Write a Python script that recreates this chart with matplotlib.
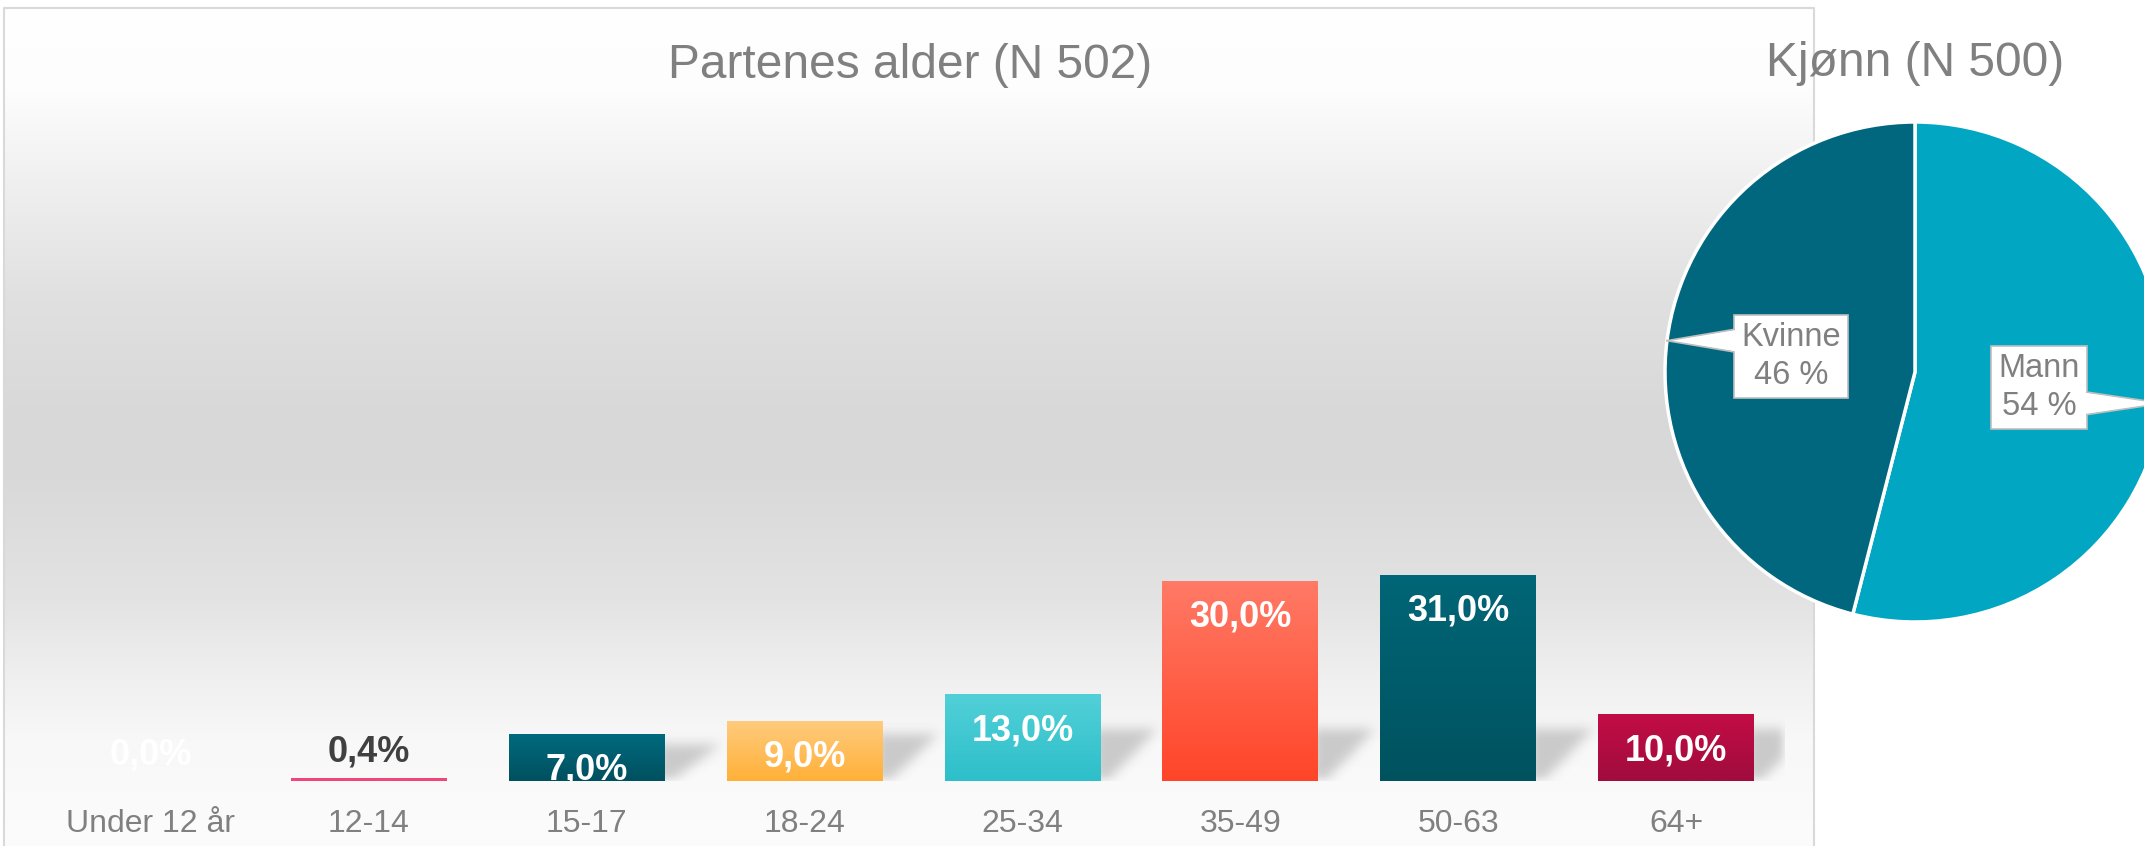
import numpy as np
import matplotlib
matplotlib.use("Agg")
import matplotlib.pyplot as plt
from matplotlib.colors import LinearSegmentedColormap, to_rgb
from matplotlib.patches import Polygon
from matplotlib.transforms import offset_copy
from matplotlib.lines import Line2D

plt.rcParams['font.family'] = ['Liberation Sans', 'DejaVu Sans']

# ---------------- data ----------------
age_groups = ["Under 12 år", "12-14", "15-17", "18-24", "25-34", "35-49", "50-63", "64+"]
age_pct = [0.0, 0.4, 7.0, 9.0, 13.0, 30.0, 31.0, 10.0]
age_labels = ["0,0%", "0,4%", "7,0%", "9,0%", "13,0%", "30,0%", "31,0%", "10,0%"]
title_age = "Partenes alder (N 502)"

gender = ["Mann", "Kvinne"]
gender_pct = [54, 46]
title_gender = "Kjønn (N 500)"

# ---------------- styles ----------------
bar_top_colors = ["#FFFFFF", "#F0467C", "#006A7E", "#FFCB7E", "#52D0D8", "#FF7A66", "#006677", "#C30C46"]
bar_bot_colors = ["#FFFFFF", "#F0467C", "#00505F", "#FFB038", "#2DBFCA", "#FF4529", "#00525F", "#A00C3E"]
label_colors = ["white", "#404040", "white", "white", "white", "white", "white", "white"]
pie_colors = ["#00A6C2", "#00677F"]
GRAY = "#808080"

W, H = 2144, 846
DPI = 100
fig = plt.figure(figsize=(W / DPI, H / DPI), dpi=DPI)
fig.patch.set_facecolor("white")


def fx(px):
    return px / W


def fy(py):
    return 1 - py / H


# ---------------- panel background ----------------
pl, pr, pt = 4, 1814, 8
bg = fig.add_axes([fx(pl), 0, fx(pr - pl), fy(pt)])
bg.set_axis_off()
rows = np.arange(pt, H)
stops_y = [pt, 90, 180, 300, 420, 480, 600, 680, 740, 846]
stops_c = [to_rgb(c) for c in ["#FFFFFF", "#FDFDFD", "#F0F0F0", "#E0E0E0", "#D8D8D8",
                               "#D9D9D9", "#E3E3E3", "#F0F0F0", "#F8F8F8", "#FCFCFC"]]
img = np.zeros((len(rows), 1, 3))
for k in range(3):
    img[:, 0, k] = np.interp(rows, stops_y, [c[k] for c in stops_c])
bg.imshow(img, extent=(0, 1, 0, 1), aspect="auto", origin="upper", interpolation="bilinear")
bg.set_xlim(0, 1)
bg.set_ylim(0, 1)
border_c = "#D9D9D9"
bg.plot([0, 0, 1, 1], [0, 1, 1, 0], color=border_c, lw=1.5, clip_on=False)

# ---------------- bar chart ----------------
ax_l, ax_w, ax_b, ax_h = 42, 1743, 781, 666
ax = fig.add_axes([fx(ax_l), fy(ax_b), fx(ax_w), ax_h / H])
ax.set_facecolor("none")
n = len(age_groups)
x = np.arange(n)
width = 0.715
ymax = 100
bars = ax.bar(x, age_pct, width=width, color="none", edgecolor="none", zorder=3)

for b, ct, cb in zip(bars, bar_top_colors, bar_bot_colors):
    x0, y0, w, h = b.get_x(), b.get_y(), b.get_width(), b.get_height()
    if h <= 0:
        continue
    cmap = LinearSegmentedColormap.from_list("g", [cb, ct])
    grad = np.linspace(0, 1, 256)[:, None]
    im = ax.imshow(grad, extent=(x0, x0 + w, y0, y0 + h), origin="lower", cmap=cmap,
                   aspect="auto", zorder=3, interpolation="bilinear")
    im.set_clip_path(b)

# soft shadows behind bars
sx = ax_w / n
sy = ax_h / ymax
alpha = np.zeros((ax_h, ax_w))
for b in bars:
    h = b.get_height()
    if h < 2:
        continue
    xr = (b.get_x() + b.get_width() + 0.5) * sx
    hp = h * sy
    Hs = min(52.0, 0.8 * hp)
    for r in range(int(Hs)):
        xs = int(xr - 6)
        xe = int(xr + 8 + 50 * r / Hs)
        alpha[r, xs:xe] = 1.0


def box_blur(a, rad, axis):
    k = 2 * rad + 1
    pad = [(0, 0), (0, 0)]
    pad[axis] = (rad + 1, rad)
    ap = np.pad(a, pad, mode="constant")
    c = np.cumsum(ap, axis=axis)
    if axis == 0:
        return (c[k:, :] - c[:-k, :]) / k
    return (c[:, k:] - c[:, :-k]) / k


for _ in range(3):
    alpha = box_blur(alpha, 5, 0)
    alpha = box_blur(alpha, 5, 1)
shadow = np.zeros((ax_h, ax_w, 4))
shadow[..., :3] = 0.45
shadow[..., 3] = alpha * 0.34
ax.imshow(shadow, extent=(-0.5, n - 0.5, 0, ymax), origin="lower", aspect="auto", zorder=2)

ax.set_xlim(-0.5, n - 0.5)
ax.set_ylim(0, ymax)
for s in ax.spines.values():
    s.set_visible(False)
ax.set_yticks([])
ax.set_xticks(x, age_groups)
ax.tick_params(axis="x", length=0, pad=20, labelsize=23, labelcolor=GRAY)

for i, (v, lab, col) in enumerate(zip(age_pct, age_labels, label_colors)):
    off = -26 if v >= 1 else 19
    tr = offset_copy(ax.transData, fig=fig, x=0, y=off, units="points")
    ax.text(x[i], v, lab, transform=tr, ha="center", va="center", fontsize=26,
            fontweight="bold", color=col, clip_on=True, zorder=5)

fig.text(fx(910), fy(65), title_age, ha="center", va="center", fontsize=34.5, color=GRAY)

# ---------------- pie chart ----------------
cx, cy, R = 1915, 372, 250
pax = fig.add_axes([fx(cx - R), fy(cy + R), fx(2 * R), 2 * R / H])
wedges, _ = pax.pie(gender_pct, colors=pie_colors, startangle=90, counterclock=False,
                    wedgeprops=dict(edgecolor="white", linewidth=2.5))
for w in wedges:
    w.set_clip_on(False)
pax.set_xlim(-1, 1)
pax.set_ylim(-1, 1)
pax.set_axis_off()

texts = []
for w, name, pct in zip(wedges, gender, gender_pct):
    th = np.deg2rad((w.theta1 + w.theta2) / 2)
    t = pax.text(0.5 * np.cos(th), 0.5 * np.sin(th), f"{name}\n{pct} %", ha="center", va="center",
                 fontsize=23.5, color=GRAY, linespacing=1.3, zorder=5,
                 bbox=dict(boxstyle="square,pad=0.22", fc="white", ec="#BFBFBF", lw=1.2))
    texts.append((t, th))

fig.canvas.draw()
renderer = fig.canvas.get_renderer()
inv = pax.transData.inverted()
for t, th in texts:
    ext = t.get_bbox_patch().get_window_extent(renderer)
    (x0d, y0d), (x1d, y1d) = inv.transform([[ext.x0, ext.y0], [ext.x1, ext.y1]])
    tx, ty = np.cos(th), np.sin(th)
    if tx < 0:
        ex, ein = x0d, x0d + 0.012
    else:
        ex, ein = x1d, x1d - 0.012
    hw = 0.045
    tri = Polygon([(ein, ty + hw), (tx, ty), (ein, ty - hw)], closed=True, fc="white", ec="none",
                  zorder=6, clip_on=False)
    pax.add_patch(tri)
    for sgn in (1, -1):
        pax.add_line(Line2D([ex, tx], [ty + sgn * hw, ty], color="#BFBFBF", lw=1.2, zorder=6,
                            clip_on=False))

fig.text(fx(1915), fy(64), title_gender, ha="center", va="center", fontsize=34.5, color=GRAY)

fig.savefig("out.png", dpi=DPI)
